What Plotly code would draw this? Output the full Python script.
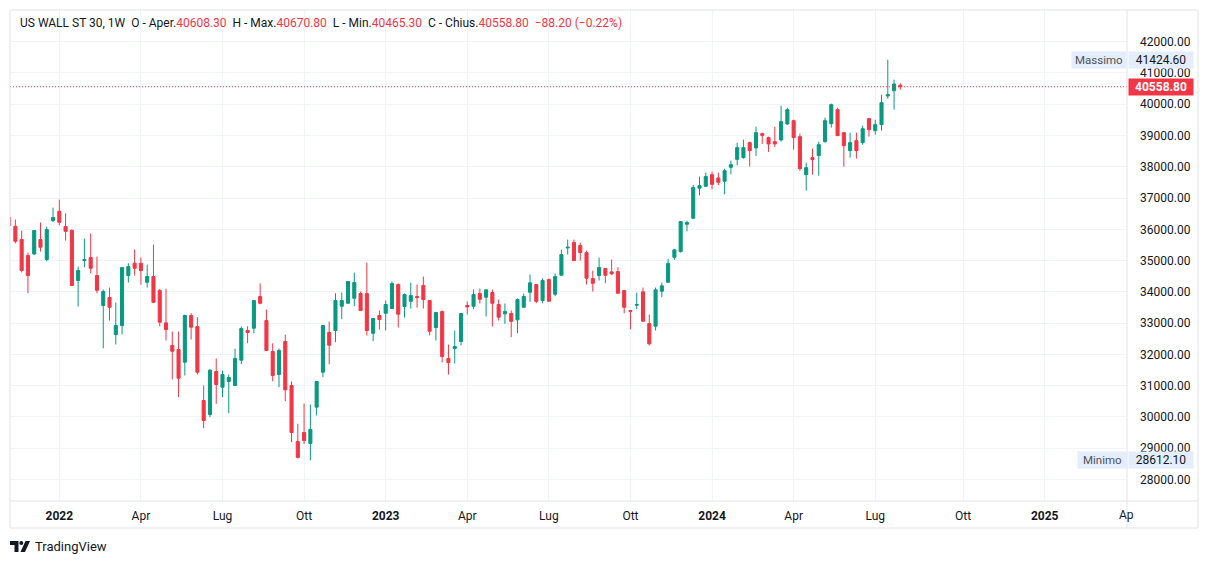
import pandas as pd
import plotly.graph_objects as go

# ---------------- data (weekly candles, US WALL ST 30) ----------------
start_week = "2021-11-08"
opens = [36380, 36097, 35672, 35160, 35214, 35672, 35033, 36279, 36577, 36087,
         35970, 34362, 35001, 35097, 34521, 33563, 33818, 32636, 32923, 34521,
         34915, 34915, 34308, 34490, 34042, 33009, 32284, 32157, 31751, 33243,
         32891, 30526, 30079, 31453, 30952, 31134, 31006, 31815, 32764, 32837,
         33850, 33083, 32092, 31357, 32412, 31006, 29216, 29504, 29152, 30312,
         31431, 32700, 32764, 33540, 33636, 33796, 33946, 33946, 32677, 33243,
         33317, 33467, 34234, 33531, 33700, 33850, 34202, 33722, 32860, 33371,
         31869, 32188, 32412, 33563, 33540, 33946, 33828, 33978, 33595, 33297,
         33307, 33105, 33509, 33988, 34234, 33722, 34394, 33924, 34531, 35405,
         35576, 35480, 35256, 34426, 34521, 34745, 34639, 34649, 34042, 33403,
         33573, 34000, 32987, 32901, 34020, 34308, 35107, 35288, 36161, 36353,
         37313, 37375, 37749, 37644, 37535, 37983, 38238, 38293, 38772, 38603,
         39060, 38932, 38804, 38858, 39370, 39475, 38964, 37749, 38293, 38357,
         38804, 39379, 39827, 39092, 38516, 38836, 38772, 39539, 39156, 39347,
         40264, 40434, 40608.3]
highs = [36420, 36311, 35960, 35256, 35980, 36215, 36087, 36695, 36950, 36513,
         35992, 34809, 35704, 35864, 35129, 34074, 34138, 33659, 34790, 34915,
         35352, 35097, 34873, 35512, 34096, 34096, 32732, 32732, 33275, 33317,
         33190, 31006, 31527, 31869, 31485, 31357, 32188, 32891, 32901, 33730,
         34266, 33435, 32358, 32188, 32636, 31134, 29782, 30430, 30398, 31140,
         32930, 33051, 33956, 33978, 34335, 34617, 34010, 34937, 33150, 33403,
         33722, 34330, 34266, 33946, 34298, 34234, 34490, 33730, 33345, 33403,
         32316, 32764, 33310, 33690, 34074, 34106, 34083, 34074, 33754, 33627,
         33403, 33786, 33946, 34553, 34240, 34435, 34426, 34585, 35352, 35672,
         35672, 35576, 35320, 34681, 35097, 34750, 35033, 34787, 34050, 33410,
         33978, 34138, 33275, 34138, 34298, 35055, 35375, 36250, 36279, 37420,
         37686, 37813, 37845, 37813, 37941, 38197, 38772, 38868, 38804, 39283,
         39092, 38964, 39283, 39955, 39891, 39507, 39060, 38133, 38580, 38804,
         39571, 40019, 39891, 39092, 39092, 39092, 39315, 39571, 39507, 40306,
         41424.6, 40786, 40670.8]
lows = [36050, 35554, 34620, 33956, 35180, 35288, 34978, 36236, 36129, 35640,
        34190, 33531, 34787, 34595, 33956, 32197, 33083, 32316, 32636, 34298,
        34521, 34234, 34138, 33640, 32901, 32444, 31197, 30632, 31325, 32476,
        31357, 29641, 29993, 30421, 30632, 30121, 30990, 31687, 32358, 32677,
        33604, 32110, 31143, 30952, 30504, 29194, 28673, 29130, 28612.1, 30047,
        31271, 31687, 32390, 33125, 33620, 33540, 33390, 32604, 32421, 32796,
        32764, 33450, 32860, 33179, 33467, 33499, 33467, 32604, 32444, 31741,
        31357, 31709, 32284, 33275, 33445, 33627, 33211, 32892, 33083, 32977,
        32550, 32677, 33500, 33681, 33636, 33636, 33690, 33860, 34520, 35193,
        34990, 35001, 34234, 34010, 34362, 34275, 34543, 33950, 33317, 32805,
        33445, 33055, 32284, 32764, 33828, 34300, 35023, 35256, 35937, 36350,
        37088, 37370, 37280, 37408, 37120, 37759, 38047, 38261, 38015, 38347,
        38730, 38475, 38635, 38804, 39338, 38548, 37877, 37238, 37749, 37717,
        38772, 39251, 38990, 38005, 38293, 38261, 38708, 38964, 39028, 39156,
        40178, 39827, 40465.3]
closes = [36120, 35618, 34681, 34521, 35960, 35427, 35992, 36375, 36225, 35937,
          34202, 34681, 35033, 34755, 34052, 34010, 33509, 32923, 34777, 34809,
          34755, 34681, 34490, 33668, 33030, 32796, 32102, 31239, 33243, 32869,
          31431, 29887, 31495, 31038, 31357, 31261, 31869, 32827, 32700, 33722,
          33636, 32124, 31325, 32124, 30868, 29504, 28705, 29248, 29600, 31134,
          32923, 32294, 33722, 33722, 34330, 34298, 33403, 32764, 33147, 33115,
          33595, 34266, 33285, 33914, 33882, 33818, 33754, 32741, 33339, 31933,
          31741, 32252, 33307, 33520, 33914, 33764, 34064, 33636, 33189, 33371,
          33061, 33754, 33850, 34288, 33700, 34362, 33700, 34490, 35193, 35426,
          35001, 35256, 34435, 34275, 34777, 34531, 34575, 33956, 33509, 33381,
          33595, 33061, 32338, 34064, 34192, 34905, 35343, 36247, 36215, 37334,
          37398, 37686, 37439, 37503, 37877, 38069, 38612, 38612, 38516, 39092,
          39005, 38730, 38730, 39443, 39827, 38932, 37941, 37973, 38229, 38708,
          39475, 39987, 38996, 38676, 38772, 38516, 39219, 39187, 39347, 40051,
          40306, 40647, 40558.8]

tick_dates = ["2022-01-03", "2022-04-04", "2022-07-04", "2022-10-03", "2023-01-02",
              "2023-04-03", "2023-07-03", "2023-10-02", "2024-01-01", "2024-04-01",
              "2024-07-01", "2024-10-07", "2025-01-06"]
tick_labels = ["<b>2022</b>", "Apr", "Lug", "Ott", "<b>2023</b>", "Apr", "Lug", "Ott",
               "<b>2024</b>", "Apr", "Lug", "Ott", "<b>2025</b>"]
price_ticks = list(range(28000, 42001, 1000))
price_labels = [f"{v}.00" for v in price_ticks]

last_close = closes[-1]
max_high = max(highs)
min_low = min(lows)

# ---------------- styling ----------------
UP = "#089981"
DOWN = "#f23645"
GRID = "#f0f3fa"
FRAME = "#e0e3eb"
TXT = "#131722"
FONT = "Roboto"

OFF = 8                      # page body margin of the browser
W, H = 1209 - OFF, 564 - OFF
# plot area in screen pixels (reference coordinates)
SL, SR, ST, SB = 10, 1127, 10, 501
L, R, T, B = SL - OFF, SR - OFF, ST - OFF, SB - OFF


def px(x):
    return (x - SL) / (SR - SL)


def py(y):
    return (SB - y) / (SB - ST)


dates = pd.date_range(start_week, periods=len(opens), freq="W-MON")

fig = go.Figure()
fig.add_trace(go.Candlestick(
    x=dates, open=opens, high=highs, low=lows, close=closes,
    increasing=dict(line=dict(color=UP, width=1), fillcolor=UP),
    decreasing=dict(line=dict(color=DOWN, width=1), fillcolor=DOWN),
    whiskerwidth=0, showlegend=False, hoverinfo="skip",
))

shapes = [
    dict(type="line", xref="paper", yref="y", x0=0, x1=1, y0=last_close, y1=last_close,
         line=dict(color=DOWN, width=1, dash="1px,2px")),
    dict(type="rect", xref="paper", yref="paper", x0=px(10), x1=px(1198), y0=py(528), y1=py(10),
         line=dict(color=FRAME, width=1)),
    dict(type="line", xref="paper", yref="paper", x0=1, x1=1, y0=py(528), y1=py(10),
         line=dict(color=FRAME, width=1)),
    dict(type="line", xref="paper", yref="paper", x0=0, x1=px(1198), y0=0, y1=0,
         line=dict(color=FRAME, width=1)),
]


def poly(points):
    d = "M " + " L ".join(f"{px(x):.5f},{py(y):.5f}" for x, y in points) + " Z"
    return dict(type="path", xref="paper", yref="paper", path=d,
                fillcolor=TXT, line=dict(width=0))


# TradingView logo mark
shapes.append(poly([(10, 541), (18.5, 541), (18.5, 552), (14.5, 552), (14.5, 545), (10, 545)]))
shapes.append(dict(type="circle", xref="paper", yref="paper",
                   x0=px(19.3), x1=px(23.3), y0=py(545), y1=py(541),
                   fillcolor=TXT, line=dict(width=0)))
shapes.append(poly([(25.5, 541), (30, 541), (25, 552), (20.5, 552)]))

red = f'<span style="color:{DOWN}">'
header = (f"US WALL ST 30, 1W&nbsp;&nbsp;O - Aper.{red}{opens[-1]:.2f}</span>&nbsp;&nbsp;"
          f"H - Max.{red}{highs[-1]:.2f}</span>&nbsp;&nbsp;"
          f"L - Min.{red}{lows[-1]:.2f}</span>&nbsp;&nbsp;"
          f"C - Chius.{red}{closes[-1]:.2f}&nbsp;&nbsp;"
          f"−{closes[-2]-closes[-1]:.2f} (−{(closes[-2]-closes[-1])/closes[-2]*100:.2f}%)</span>")

LBL_BG = "#e3edfb"


def tag(xc, yv, text, width, bg, color, size=12):
    return dict(xref="paper", yref="y", x=px(xc), y=yv, xanchor="center", yanchor="middle",
                text=text, showarrow=False, bgcolor=bg, width=width, height=16, borderpad=0,
                font=dict(family=FONT, size=size, color=color))


annotations = [
    dict(xref="paper", yref="paper", x=px(18), y=py(23), xanchor="left", yanchor="middle",
         text=header, showarrow=False, font=dict(family=FONT, size=12, color=TXT)),
    tag(1099, max_high, "Massimo", 54, LBL_BG, "#50535e", 11.5),
    tag(1161, max_high, f"{max_high:.2f}", 64, LBL_BG, TXT),
    tag(1102.5, min_low, "Minimo", 49, LBL_BG, "#50535e", 11.5),
    tag(1161, min_low, f"{min_low:.2f}", 64, LBL_BG, TXT),
    tag(1161, last_close, f"<b>{last_close:.2f}</b>", 64, DOWN, "white"),
    dict(xref="paper", yref="paper", x=px(1117), y=py(515), xanchor="left", yanchor="middle",
         text="Ap", showarrow=False, font=dict(family=FONT, size=12, color=TXT)),
    dict(xref="paper", yref="paper", x=px(33), y=py(546.5), xanchor="left", yanchor="middle",
         text="TradingView", showarrow=False, font=dict(family=FONT, size=13, color=TXT)),
]

fig.update_layout(
    width=W, height=H,
    margin=dict(l=L, r=W - R, t=T, b=H - B, pad=0),
    paper_bgcolor="white", plot_bgcolor="white",
    font=dict(family=FONT, size=12, color=TXT),
    shapes=shapes, annotations=annotations,
    xaxis=dict(
        type="date", range=["2021-11-09", "2025-04-07 19:00"],
        tickvals=tick_dates, ticktext=tick_labels, tickmode="array",
        showgrid=True, gridcolor=GRID, gridwidth=1, zeroline=False,
        showline=False, ticks="", ticklabelstandoff=6,
        rangeslider=dict(visible=False), fixedrange=True,
        tickfont=dict(family=FONT, size=12, color=TXT),
    ),
    yaxis=dict(
        side="right", range=[27312, 43014],
        tickvals=price_ticks, ticktext=price_labels, tickmode="array",
        showgrid=True, gridcolor=GRID, gridwidth=1, zeroline=False,
        showline=False, ticks="", ticklabelstandoff=12,
        tickfont=dict(family=FONT, size=12, color=TXT), fixedrange=True,
    ),
)

fig.write_html("out.html")
